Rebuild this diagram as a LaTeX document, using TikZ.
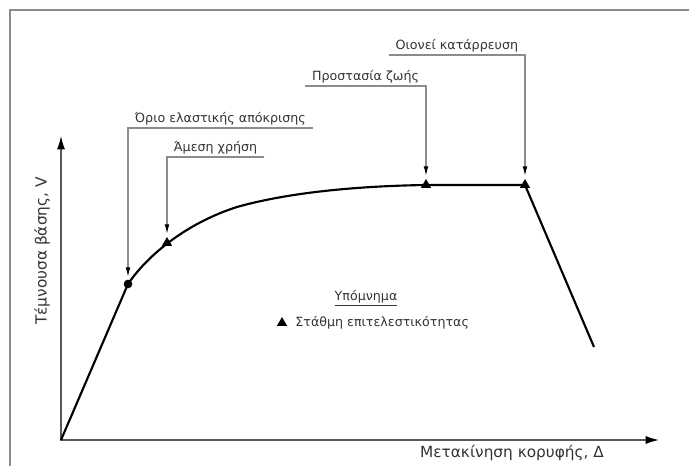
\documentclass[tikz,border=0pt]{standalone}
\usepackage{fontspec}
\setmainfont{DejaVu Sans}
\usepackage{tikz}
\usetikzlibrary{arrows.meta, positioning, shapes.geometric}

\tikzset{
  lbl/.style={inner xsep=5pt, inner ysep=2pt, font=\fontsize{9.5}{11}\selectfont, text=black!80},
  axlbl/.style={inner sep=0pt, font=\fontsize{11.5}{13}\selectfont, text=black!80},
  lead/.style={draw=black!45, line width=0.8pt, -{Latex[length=7pt,width=3.5pt,color=black]}, shorten >=2pt},
  axis/.style={draw=black!65, line width=0.9pt},
  curve/.style={draw=black, line width=1.6pt},
  pl/.style={regular polygon, regular polygon sides=3, fill=black, inner sep=0pt, minimum size=9pt},
  elpt/.style={circle, fill=black, inner sep=0pt, minimum size=6.5pt}
}

\begin{document}
\begin{tikzpicture}[x=0.75pt,y=0.75pt,yscale=-1,xscale=1]
\useasboundingbox (0,0) rectangle (689,466);

%Shape: Frame 
\draw [black!45, line width=1.5pt] (10,466) -- (10,10) -- (689,10) ;

%Axes 
\coordinate (O) at (61,440) ;
\coordinate (xend) at (659,440) ;
\coordinate (yend) at (61,136) ;
\draw [axis, {Latex[length=10pt,width=6pt,color=black]}-{Latex[length=10pt,width=6pt,color=black]}] (yend) -- (O) -- (xend) ;

%Points on the curve 
\node [elpt] (elastic) at (128,284) {} ;
\node [pl] (immed) at (167,243) {} ;
\node [pl] (life) at (426,185) {} ;
\node [pl] (collapse) at (525,185) {} ;
\coordinate (curveend) at (594,347) ;

%Curve 
\draw [curve] (O) -- (elastic.center) .. controls (150,252) and (190,222) .. (237,207) .. controls (290,192) and (360,186) .. (life.center) -- (collapse.center) -- (curveend) ;

% Text Node
\node [lbl, anchor=south west] (orio) at (elastic |- 0,128) {Όριο ελαστικής απόκρισης};
% Text Node
\node [lbl, anchor=south west] (amesi) at (immed |- 0,157) {Άμεση χρήση};
% Text Node
\node [lbl, anchor=south east] (prost) at (life |- 0,86) {Προστασία ζωής};
% Text Node
\node [lbl, anchor=south east] (oionei) at (collapse |- 0,55) {Οιονεί κατάρρευση};

%Leader Lines 
\draw [lead] (orio.south east) -- (orio.south west) -- (elastic) ;
\draw [lead] (amesi.south east) -- (amesi.south west) -- (immed) ;
\draw [lead] (prost.south west) -- (prost.south east) -- (life) ;
\draw [lead] (oionei.south west) -- (oionei.south east) -- (collapse) ;

% Legend
\node [lbl] (legtitle) at (366,298) {\underline{Υπόμνημα}};
\node [pl] (legmark) at (282,323) {} ;
\node [lbl, right=2pt of legmark] (legtext) {Στάθμη επιτελεστικότητας};

% Axis labels
\node [axlbl, rotate=90] (ylab) at (42,251) {Τέμνουσα βάσης, V};
\node [axlbl] (xlab) at (512,453) {Μετακίνηση κορυφής, Δ};
\end{tikzpicture}
\end{document}
